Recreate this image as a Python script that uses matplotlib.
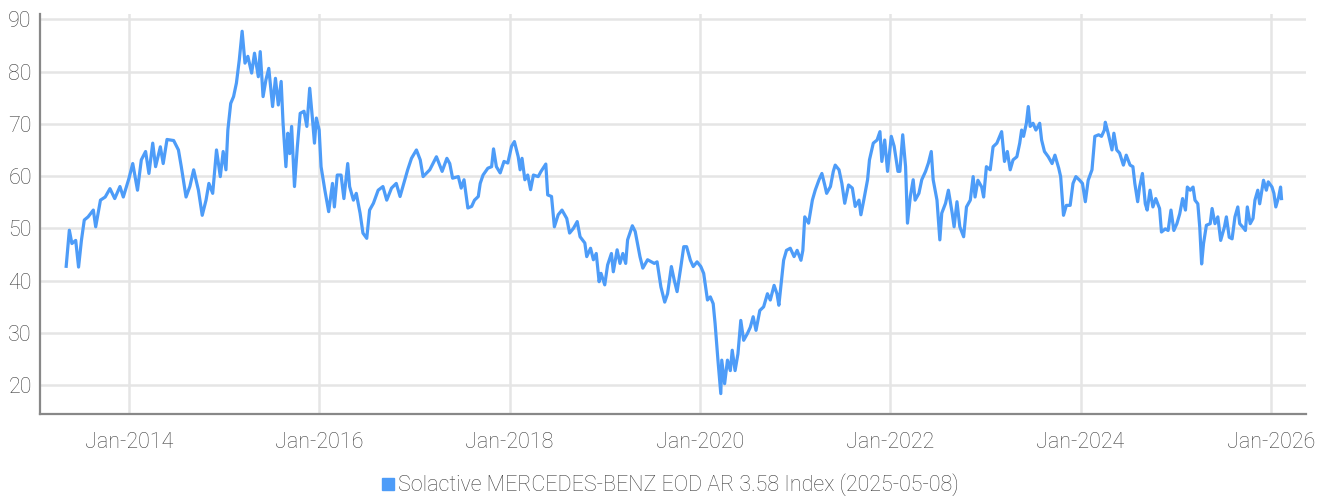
import datetime as dt
import matplotlib
matplotlib.use("Agg")
import matplotlib.pyplot as plt
import matplotlib.dates as mdates
from matplotlib.lines import Line2D

# time as decimal years
t = [2013.34, 2013.373, 2013.40, 2013.44, 2013.47, 2013.50, 2013.53, 2013.57, 2013.625, 2013.65,
     2013.70, 2013.75, 2013.80, 2013.85, 2013.905, 2013.94, 2014.0, 2014.04, 2014.09, 2014.13,
     2014.175, 2014.21, 2014.25, 2014.28, 2014.33, 2014.36, 2014.40, 2014.47, 2014.52, 2014.55,
     2014.60, 2014.64, 2014.68, 2014.73, 2014.77, 2014.81, 2014.84, 2014.88, 2014.92, 2014.96,
     2014.99, 2015.02, 2015.04, 2015.07, 2015.10, 2015.13, 2015.16, 2015.19, 2015.22, 2015.25,
     2015.29, 2015.32, 2015.36, 2015.38, 2015.41, 2015.44, 2015.47, 2015.51, 2015.54, 2015.57,
     2015.60, 2015.62, 2015.65, 2015.67, 2015.69, 2015.71, 2015.74, 2015.77, 2015.80, 2015.84,
     2015.87, 2015.90, 2015.93, 2015.95, 2015.97, 2016.0, 2016.02, 2016.06, 2016.10, 2016.14,
     2016.16, 2016.19, 2016.23, 2016.26, 2016.30, 2016.32, 2016.36, 2016.39, 2016.43, 2016.46,
     2016.50, 2016.53, 2016.57, 2016.62, 2016.67, 2016.71, 2016.76, 2016.81, 2016.85, 2016.88,
     2016.93, 2016.97, 2017.02, 2017.06, 2017.09, 2017.16, 2017.23, 2017.29, 2017.34, 2017.37,
     2017.40, 2017.46, 2017.49, 2017.52, 2017.56, 2017.60, 2017.63, 2017.67, 2017.69, 2017.72,
     2017.77, 2017.81, 2017.83, 2017.86, 2017.90, 2017.94, 2017.98, 2018.02, 2018.05, 2018.09,
     2018.11, 2018.13, 2018.16, 2018.19, 2018.22, 2018.25, 2018.30, 2018.33, 2018.38, 2018.40,
     2018.44, 2018.47, 2018.51, 2018.55, 2018.60, 2018.63, 2018.67, 2018.71, 2018.74, 2018.79,
     2018.81, 2018.85, 2018.88, 2018.91, 2018.94, 2018.96, 2019.0, 2019.03, 2019.07, 2019.09,
     2019.13, 2019.16, 2019.19, 2019.22, 2019.24, 2019.29, 2019.32, 2019.37, 2019.40, 2019.45,
     2019.52, 2019.55, 2019.59, 2019.63, 2019.66, 2019.70, 2019.73, 2019.76, 2019.80, 2019.83,
     2019.86, 2019.90, 2019.93, 2019.97, 2020.01, 2020.04, 2020.08, 2020.11, 2020.14, 2020.16,
     2020.19, 2020.22, 2020.23, 2020.26, 2020.29, 2020.32, 2020.34, 2020.37, 2020.40, 2020.43,
     2020.46, 2020.50, 2020.53, 2020.56, 2020.59, 2020.63, 2020.67, 2020.71, 2020.74, 2020.78,
     2020.81, 2020.83, 2020.85, 2020.88, 2020.91, 2020.95, 2020.99, 2021.02, 2021.06, 2021.08,
     2021.10, 2021.14, 2021.18, 2021.21, 2021.25, 2021.28, 2021.31, 2021.33, 2021.37, 2021.40,
     2021.42, 2021.46, 2021.49, 2021.52, 2021.56, 2021.60, 2021.63, 2021.67, 2021.69, 2021.72,
     2021.76, 2021.78, 2021.82, 2021.86, 2021.89, 2021.91, 2021.94, 2021.97, 2022.01, 2022.04,
     2022.08, 2022.10, 2022.13, 2022.16, 2022.18, 2022.21, 2022.24, 2022.26, 2022.30, 2022.33,
     2022.37, 2022.40, 2022.43, 2022.45, 2022.49, 2022.52, 2022.54, 2022.58, 2022.61, 2022.65,
     2022.67, 2022.70, 2022.73, 2022.77, 2022.80, 2022.84, 2022.87, 2022.89, 2022.92, 2022.96,
     2022.98, 2023.01, 2023.05, 2023.08, 2023.12, 2023.15, 2023.17, 2023.20, 2023.23, 2023.26,
     2023.29, 2023.33, 2023.36, 2023.38, 2023.40, 2023.43, 2023.45, 2023.47, 2023.50, 2023.53,
     2023.57, 2023.59, 2023.62, 2023.66, 2023.70, 2023.73, 2023.77, 2023.79, 2023.82, 2023.85,
     2023.89, 2023.92, 2023.95, 2023.99, 2024.02, 2024.05, 2024.08, 2024.12, 2024.15, 2024.19,
     2024.22, 2024.25, 2024.26, 2024.29, 2024.33, 2024.35, 2024.38, 2024.41, 2024.45, 2024.48,
     2024.52, 2024.55, 2024.57, 2024.60, 2024.62, 2024.65, 2024.68, 2024.70, 2024.73, 2024.76,
     2024.79, 2024.83, 2024.85, 2024.89, 2024.92, 2024.95, 2024.98, 2025.01, 2025.04, 2025.07,
     2025.10, 2025.12, 2025.15, 2025.18, 2025.20, 2025.23, 2025.25, 2025.27, 2025.29, 2025.32,
     2025.36, 2025.38, 2025.41, 2025.44, 2025.47, 2025.51, 2025.53, 2025.56, 2025.59, 2025.62,
     2025.65, 2025.67, 2025.70, 2025.73, 2025.75, 2025.78, 2025.81, 2025.83, 2025.86, 2025.88,
     2025.92, 2025.95, 2025.97, 2026.01, 2026.03, 2026.05, 2026.08, 2026.10, 2026.11]

v = [42.75, 49.65, 47.1, 47.7, 42.6, 47.7, 51.6, 52.2, 53.5, 50.3,
     55.4, 56.0, 57.6, 55.7, 58.0, 56.0, 59.55, 62.4, 57.3, 63.1,
     64.7, 60.5, 66.3, 61.8, 65.6, 62.4, 67.0, 66.8, 65.0, 61.8,
     56.0, 58.0, 61.2, 57.3, 52.5, 55.4, 58.6, 56.7, 65.0, 59.9,
     64.7, 61.2, 68.8, 73.9, 75.2, 77.8, 82.2, 87.7, 81.6, 82.9,
     79.7, 83.5, 79.0, 83.8, 75.2, 78.4, 80.6, 73.3, 78.7, 73.6,
     78.1, 70.1, 61.8, 68.2, 64.3, 69.5, 58.0, 65.6, 72.0, 72.4,
     69.5, 76.8, 70.7, 66.3, 71.1, 68.8, 61.8, 57.3, 53.2, 58.6,
     54.1, 60.2, 60.2, 55.7, 62.4, 58.0, 55.4, 56.7, 52.9, 49.1,
     48.1, 53.5, 54.8, 57.3, 58.0, 55.4, 57.7, 58.6, 56.1, 58.0,
     61.2, 63.4, 65.0, 63.1, 59.9, 61.2, 63.7, 60.9, 63.4, 62.4,
     59.6, 59.9, 57.7, 59.3, 53.9, 54.2, 55.4, 56.1, 58.6, 60.2,
     61.5, 61.8, 65.2, 61.8, 60.6, 62.8, 62.5, 65.7, 66.6, 63.7,
     61.2, 63.4, 59.3, 60.2, 57.4, 60.2, 59.9, 60.9, 62.3, 56.4,
     56.1, 50.3, 52.6, 53.5, 51.9, 49.1, 50.0, 51.3, 48.4, 47.2,
     44.6, 46.2, 44.0, 45.2, 39.8, 41.4, 39.2, 43.0, 45.2, 41.7,
     45.9, 43.3, 45.2, 43.3, 47.8, 50.5, 49.4, 44.6, 42.4, 44.0,
     43.3, 43.6, 38.8, 35.9, 37.5, 42.7, 40.1, 37.9, 42.7, 46.5,
     46.5, 43.9, 42.7, 43.6, 42.7, 41.4, 36.3, 36.9, 35.6, 31.8,
     24.8, 18.4, 24.8, 20.3, 24.8, 22.8, 26.7, 22.8, 26.0, 32.4,
     28.6, 29.9, 31.1, 33.1, 30.5, 34.3, 35.0, 37.5, 36.3, 39.1,
     37.5, 35.3, 38.8, 43.9, 45.8, 46.2, 44.6, 45.8, 43.9, 45.8,
     52.2, 51.0, 55.4, 57.3, 59.3, 60.5, 58.3, 56.7, 58.0, 60.9,
     62.1, 61.2, 58.6, 54.8, 58.3, 57.7, 54.2, 55.4, 52.6, 55.4,
     59.3, 63.1, 66.3, 66.9, 68.5, 62.8, 66.9, 60.9, 67.6, 65.7,
     60.9, 60.9, 67.9, 61.8, 51.0, 56.1, 59.3, 55.4, 56.7, 59.3,
     60.9, 62.5, 64.7, 59.3, 55.4, 47.8, 52.9, 54.8, 57.3, 52.9,
     50.3, 55.1, 50.3, 48.4, 54.1, 55.4, 59.9, 56.0, 59.2, 57.9,
     56.0, 61.8, 61.2, 65.6, 66.3, 67.6, 68.5, 62.8, 64.7, 61.2,
     63.1, 63.7, 66.3, 68.8, 67.6, 70.1, 73.3, 69.5, 70.1, 68.8,
     70.1, 66.9, 64.7, 63.7, 62.4, 64.0, 61.5, 59.9, 52.5, 54.4,
     54.4, 58.6, 59.9, 59.2, 58.6, 55.1, 59.2, 61.2, 67.6, 67.9,
     67.6, 68.8, 70.3, 68.2, 65.0, 68.2, 65.0, 64.4, 62.1, 64.0,
     62.1, 61.8, 58.6, 55.1, 57.9, 60.5, 54.7, 53.5, 57.3, 54.1,
     55.7, 53.8, 49.3, 49.9, 49.6, 53.5, 49.6, 50.9, 52.8, 55.7,
     53.5, 57.9, 57.3, 57.9, 55.4, 54.7, 50.3, 43.2, 47.1, 50.6,
     50.9, 53.8, 50.9, 52.2, 47.7, 50.3, 52.2, 48.3, 48.0, 52.2,
     54.1, 50.9, 50.3, 49.6, 54.1, 50.9, 51.9, 55.4, 57.3, 54.7,
     59.2, 57.3, 58.9, 57.9, 56.7, 54.1, 56.0, 57.9, 55.7]

tick_years = [2014, 2016, 2018, 2020, 2022, 2024, 2026]
y_ticks = [20, 30, 40, 50, 60, 70, 80, 90]
series_name = "Solactive MERCEDES-BENZ EOD AR 3.58 Index (2025-05-08)"


def to_date(y):
    yi = int(y)
    return dt.datetime(yi, 1, 1) + dt.timedelta(days=(y - yi) * 365.25)


dates = [to_date(y) for y in t]

plt.rcParams["font.family"] = ["Roboto", "DejaVu Sans"]
plt.rcParams["font.weight"] = "light"

blue = "#4d9cf8"
grid = "#e5e5e5"
txt = "#404040"

fig = plt.figure(figsize=(13.25, 4.96), dpi=100)
ax = fig.add_axes([0.0302, 0.1653, 0.9553, 0.8065])

ax.plot(dates, v, color=blue, lw=2.3, solid_joinstyle="round", zorder=3)

ax.set_ylim(14.5, 91)
ax.set_xlim(to_date(2013.065), to_date(2026.365))
ax.set_yticks(y_ticks)
ax.set_xticks([dt.datetime(y, 1, 1) for y in tick_years])
ax.xaxis.set_major_formatter(mdates.DateFormatter("%b-%Y"))

ax.grid(True, color=grid, lw=1.8, zorder=0)
ax.tick_params(length=0, labelsize=15.5, labelcolor=txt)
ax.tick_params(axis="x", pad=13)
ax.tick_params(axis="y", pad=6)

for s in ["top", "right"]:
    ax.spines[s].set_visible(False)
for s in ["left", "bottom"]:
    ax.spines[s].set_color("#888888")
    ax.spines[s].set_linewidth(1.6)

handle = Line2D([], [], marker="s", ls="none", color=blue, markersize=8)
fig.legend([handle], [series_name], loc="center", bbox_to_anchor=(0.505, 0.022),
           frameon=False, fontsize=15.5, labelcolor=txt, handletextpad=0.1,
           handlelength=0.8, borderpad=0)

fig.savefig("out.png", dpi=100)
